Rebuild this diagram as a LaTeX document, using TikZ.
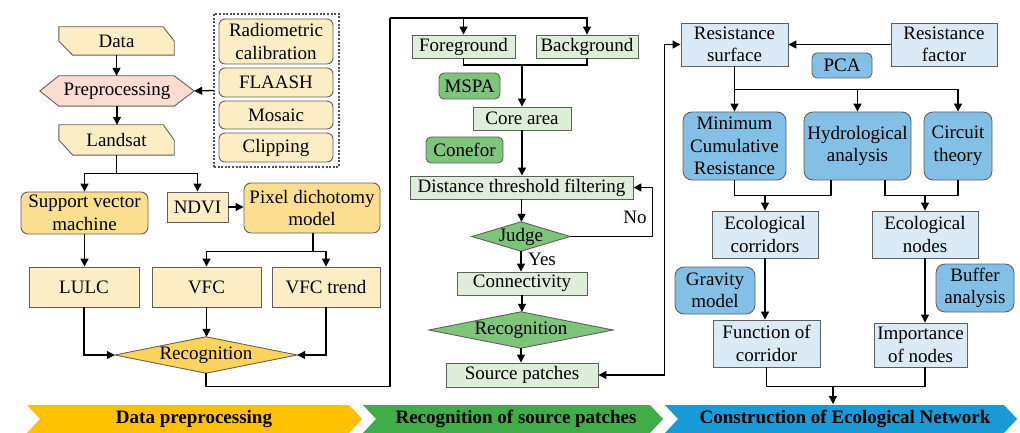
\documentclass[tikz,border=0pt]{standalone}
\usepackage{fontspec}
\setmainfont{Liberation Serif}
\usetikzlibrary{arrows.meta,calc}
\pgfdeclarelayer{bg}
\pgfsetlayers{bg,main}
\definecolor{bord}{HTML}{5F5F5F}
\definecolor{dotc}{HTML}{505050}
\definecolor{lyel}{HTML}{FDEDC4}
\definecolor{myel}{HTML}{FCDE90}
\definecolor{pinkc}{HTML}{FBDCD0}
\definecolor{gold}{HTML}{FCD35C}
\definecolor{lgrn}{HTML}{DDEFD8}
\definecolor{mgrn}{HTML}{7FC47B}
\definecolor{lblu}{HTML}{DAEAF6}
\definecolor{mblu}{HTML}{84C0E6}
\definecolor{banY}{HTML}{FFC000}
\definecolor{banG}{HTML}{41AD49}
\definecolor{banB}{HTML}{1A9BD7}
\newcommand\myfs{\fontsize{19}{22.5}\selectfont}
\newcommand\banfs{\fontsize{19}{22}\selectfont\bfseries}
\begin{document}
\begin{tikzpicture}[x=1pt,y=-1pt,
 every node/.style={inner sep=0pt, align=center, font=\myfs, text=black},
 box/.style={draw=bord, line width=0.9pt},
 ly/.style={box, fill=lyel},
 ry/.style={box, fill=lyel, rounded corners=6pt},
 my/.style={box, fill=myel, rounded corners=7pt},
 lg/.style={box, fill=lgrn},
 mg/.style={box, fill=mgrn, rounded corners=5pt},
 lb/.style={box, fill=lblu},
 mb/.style={box, fill=mblu, rounded corners=9pt},
 sz/.style 2 args={minimum width=#1, minimum height=#2},
 shp/.style={draw=bord, line width=0.9pt},
 ln/.style={line width=1.3pt, draw=black},
 con/.style={ln, -{Triangle[length=8pt,width=8pt]}},
 con2/.style={ln, {Triangle[length=8pt,width=8pt]}-{Triangle[length=8pt,width=8pt]}},
 ban/.style={font=\banfs}]
\useasboundingbox (0,0) rectangle (1020,433);

% ---------- left section ----------
\node[sz={115}{28}] (data) at (116.5,41) {Data};
\node[sz={154}{30}] (prep) at (117,91) {Preprocessing};
\node[sz={115}{30}] (landsat) at (116.5,140) {Landsat};
\node[draw=dotc, line width=2pt, dash pattern=on 2pt off 1.6pt, sz={125}{153}] (grp) at (276.5,90.5) {};
\node[ry, sz={114}{45}] (radio) at (276,41.5) {Radiometric\\calibration};
\node[ry, sz={114}{29}] (flaash) at (276,82.5) {FLAASH};
\node[ry, sz={114}{28}] (mosaic) at (276,115) {Mosaic};
\node[ry, sz={114}{29}] (clip) at (276,147.5) {Clipping};
\node[my, sz={127}{42}] (svm) at (84.5,213) {Support vector\\machine};
\node[ly, sz={61}{30}] (ndvi) at (197.5,207) {NDVI};
\node[my, sz={136}{50}] (pixel) at (312,208) {Pixel dichotomy\\model};
\node[ly, sz={110}{40}] (lulc) at (84,287) {LULC};
\node[ly, sz={109}{40}] (vfc) at (206.5,287) {VFC};
\node[ly, sz={108}{40}] (vfct) at (326,287) {VFC trend};
\node[sz={182}{36}] (rec1) at (206,355) {Recognition};

% ---------- middle section ----------
\node[lg, sz={103}{23}] (fg) at (463.5,46.5) {Foreground};
\node[lg, sz={102}{23}] (bgd) at (587,46.5) {Background};
\node[mg, sz={61}{26}] (mspa) at (469.5,86) {MSPA};
\node[lg, sz={98}{23}] (core) at (522,118.5) {Core area};
\node[mg, sz={77}{26}] (conefor) at (464.5,150) {Conefor};
\node[lg, sz={223}{23}] (dist) at (521.5,187.5) {Distance threshold filtering};
\node[sz={98}{29}] (judge) at (521,236.5) {Judge};
\node[lg, sz={130}{23}] (conn) at (522,283.5) {Connectivity};
\node[sz={184}{36}] (rec2) at (521,330) {Recognition};
\node[lg, sz={152}{24}] (src) at (522,375) {Source patches};
\node (no) at (635,217) {No};
\node (yes) at (542,259) {Yes};

% ---------- right section ----------
\node[lb, sz={107}{43}] (rs) at (734.5,44.5) {Resistance\\surface};
\node[lb, sz={106}{43}] (rf) at (944,44.5) {Resistance\\factor};
\node[mb, rounded corners=5pt, sz={60}{25}] (pca) at (842,65.5) {PCA};
\node[mb, sz={103}{68}] (mcr) at (734.5,146) {Minimum\\Cumulative\\Resistance};
\node[mb, sz={107}{68}] (hyd) at (857.5,146) {Hydrological\\analysis};
\node[mb, sz={68}{68}] (cir) at (958,146) {Circuit\\theory};
\node[lb, sz={106}{47}] (ecor) at (765,234.5) {Ecological\\corridors};
\node[lb, sz={106}{47}] (enod) at (925,234.5) {Ecological\\nodes};
\node[mb, sz={80}{47}] (grav) at (715,290.5) {Gravity\\model};
\node[mb, sz={78}{48}] (buf) at (975,288) {Buffer\\analysis};
\node[lb, sz={107}{47}] (fcor) at (766.5,343.5) {Function of\\corridor};
\node[lb, sz={93}{44}] (imp) at (920.5,345) {Importance\\of nodes};

% ---------- banner ----------
\node[ban] (ban1) at (194,419) {Data preprocessing};
\node[ban] (ban2) at (516,419) {Recognition of source patches};
\node[ban] (ban3) at (845,419) {Construction of Ecological Network};

% ---------- background shapes ----------
\begin{pgfonlayer}{bg}
\draw[shp, fill=lyel] (data.north west) -- ([xshift=-11pt]data.north east) -- (data.east) -- (data.south east) -- ([xshift=14pt]data.south west) -- (data.west) -- cycle;
\draw[shp, fill=lyel] (landsat.north west) -- ([xshift=-11pt]landsat.north east) -- (landsat.east) -- (landsat.south east) -- ([xshift=14pt]landsat.south west) -- (landsat.west) -- cycle;
\draw[shp, fill=pinkc] (prep.west) -- ([xshift=19pt]prep.north west) -- ([xshift=-20pt]prep.north east) -- (prep.east) -- ([xshift=-20pt]prep.south east) -- ([xshift=19pt]prep.south west) -- cycle;
\draw[shp, fill=gold] (rec1.north) -- (rec1.east) -- (rec1.south) -- (rec1.west) -- cycle;
\draw[shp, fill=mgrn] (judge.north) -- (judge.east) -- (judge.south) -- (judge.west) -- cycle;
\draw[shp, fill=mgrn] (rec2.north) -- (rec2.east) -- (rec2.south) -- (rec2.west) -- cycle;
\fill[banY] (27,405) -- (349,405) -- (362,419) -- (349,433) -- (27,433) -- (40,419) -- cycle;
\fill[banG] (363,405) -- (650,405) -- (663,419) -- (650,433) -- (363,433) -- (376,419) -- cycle;
\fill[banB] (665,405) -- (1004,405) -- (1017,419) -- (1004,433) -- (665,433) -- (678,419) -- cycle;
\end{pgfonlayer}

% ---------- connectors: left ----------
\draw[con] (data.south) -- (data.south |- prep.north);
\draw[con] (prep.south) -- (prep.south |- landsat.north);
\draw[con] (grp.west) -- (prep.east);
\draw[ln] (landsat.south) -- ++(0,18) coordinate (j1);
\draw[con] (j1) -| (svm.north);
\draw[con] (j1) -| (ndvi.north);
\draw[con] (ndvi.east) -- (ndvi.east -| pixel.west);
\draw[con] (svm.south) -- (svm.south |- lulc.north);
\draw[ln] ([xshift=1pt]pixel.south) -- ++(0,18) coordinate (j2);
\draw[con] (j2) -| (vfc.north);
\draw[con] (j2) -| (vfct.north);
\draw[con] (vfc.south) -- (vfc.south |- rec1.north);
\draw[con] (lulc.south) |- (rec1.west);
\draw[con] (vfct.south) |- (rec1.east);
\coordinate (t1) at (390,18);
\draw[ln] (rec1.south) -- ++(0,13) -| (t1);
\draw[con] (t1) -| (fg.north);
\draw[con] (t1) -| (bgd.north);

% ---------- connectors: middle ----------
\coordinate (j3) at (522,65);
\draw[ln] (fg.south) |- (j3);
\draw[ln] (bgd.south) |- (j3);
\draw[con] (j3) -- (core.north);
\draw[con] (core.south) -- (core.south |- dist.north);
\draw[con] (dist.south) -- (dist.south |- judge.north);
\draw[con] (judge.east) -- ++(82,0) |- (dist.east);
\draw[con] (judge.south) -- (judge.south |- conn.north);
\draw[con] (conn.south) -- (conn.south |- rec2.north);
\draw[con] (rec2.south) -- (rec2.south |- src.north);
\draw[con2] (src.east) -- ++(66,0) |- (rs.west);

% ---------- connectors: right ----------
\draw[con] (rf.west) -- (rs.east);
\draw[ln] (rs.south) -- ++(0,23) coordinate (j4);
\draw[con] (j4) -- (mcr.north);
\draw[con] (j4) -| (hyd.north);
\draw[con] (j4) -| (cir.north);
\draw[ln] (mcr.south) -- ++(0,15) coordinate (j5) -| ([xshift=-26.5pt]hyd.south);
\draw[ln] ([xshift=27.5pt]hyd.south) -- ++(0,15) -| (cir.south);
\draw[con] (ecor.north |- j5) -- (ecor.north);
\draw[con] (enod.north |- j5) -- (enod.north);
\draw[con] (ecor.south) -- (ecor.south |- fcor.north);
\draw[con] (enod.south) -- (enod.south |- imp.north);
\draw[ln] (fcor.south) -- ++(0,19) coordinate (j6) -| (enod.south |- imp.south);
\coordinate (m6) at (833,386);
\coordinate (bt) at (833,404);
\draw[con] (m6) -- (bt);
\end{tikzpicture}
\end{document}
